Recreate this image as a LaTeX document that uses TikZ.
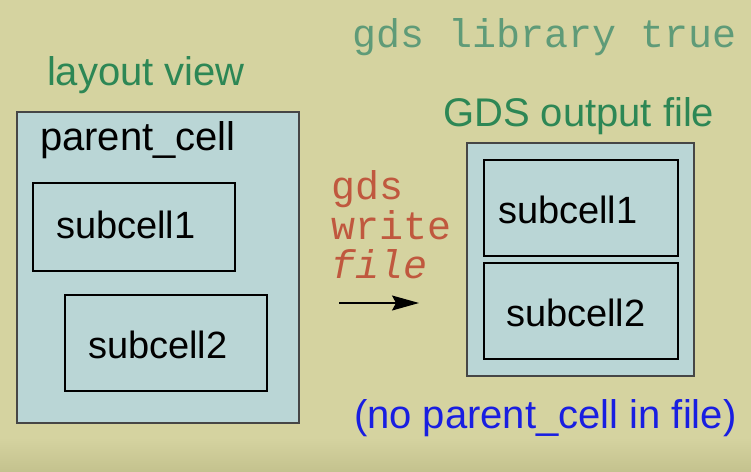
\documentclass[tikz,border=0pt]{standalone}
\usepackage{fontspec}
\setmainfont{Liberation Sans}
\newfontfamily\codefont{Liberation Mono}
\usetikzlibrary{arrows.meta}
\definecolor{bg}{RGB}{213,211,160}
\definecolor{bgdark}{RGB}{196,194,142}
\definecolor{cellfill}{RGB}{186,214,214}
\definecolor{titlegreen}{RGB}{45,135,85}
\definecolor{codegreen}{RGB}{95,155,120}
\definecolor{codered}{RGB}{192,88,62}
\definecolor{noteblue}{RGB}{25,30,225}
\definecolor{outerline}{RGB}{70,70,70}
\tikzset{
  outerbox/.style={draw=outerline, fill=cellfill, line width=1.3pt, inner sep=0pt, outer sep=0pt},
  innerbox/.style={draw=black, fill=cellfill, line width=1.5pt, inner sep=0pt, outer sep=0pt},
  txt/.style={anchor=base west, inner sep=0pt, outer sep=0pt, font=\fontsize{40}{48}\selectfont},
  subtxt/.style={anchor=base west, inner sep=0pt, outer sep=0pt, font=\fontsize{38}{46}\selectfont},
  codetxt/.style={anchor=base west, inner sep=0pt, outer sep=0pt, font=\codefont\fontsize{40}{48}\selectfont},
}
\begin{document}
\begin{tikzpicture}[x=1pt,y=-1pt]
\useasboundingbox (0,0) rectangle (751,471);
\fill[bg] (0,0) rectangle (751,471);
\shade[top color=bg,bottom color=bgdark] (0,438) rectangle (751,471);

% left: layout view
\node[txt, text=titlegreen] (lvtitle) at (47,85) {layout view};
\node[outerbox, minimum width=282pt, minimum height=311pt] (parent) at (158,267.5) {};
\node[txt] (parentlbl) at (40,150) {parent\_cell};
\node[innerbox, minimum width=202pt, minimum height=88pt] (lsub1) at (134,227) {};
\node[subtxt] (lsub1lbl) at (56,238) {subcell1};
\node[innerbox, minimum width=202pt, minimum height=96pt] (lsub2) at (166,343) {};
\node[subtxt] (lsub2lbl) at (88,358) {subcell2};

% top code
\node[codetxt, text=codegreen] (libtrue) at (352,47) {gds library true};

% middle command
\node[codetxt, text=codered] (cmd1) at (331,199) {gds};
\node[codetxt, text=codered] (cmd2) at (331,239) {write};
\node[codetxt, text=codered] (cmd3) at (331,278) {\itshape file};
\coordinate (arrs) at (339,303);
\coordinate (arre) at (419,303);
\draw[line width=1.2pt, -{Stealth[length=27pt,width=15pt,inset=4pt]}] (arrs) -- (arre);

% right: GDS output file
\node[txt, text=titlegreen] (gdstitle) at (443,126) {GDS output file};
\node[outerbox, minimum width=227pt, minimum height=233pt] (outfile) at (580.5,259.5) {};
\node[innerbox, minimum width=194pt, minimum height=96pt] (rsub1) at (581,208) {};
\node[subtxt] (rsub1lbl) at (498,223) {subcell1};
\node[innerbox, minimum width=194pt, minimum height=96pt] (rsub2) at (581,311) {};
\node[subtxt] (rsub2lbl) at (506,326) {subcell2};

% note
\node[txt, text=noteblue] (note) at (354,428) {(no parent\_cell in file)};
\end{tikzpicture}
\end{document}
